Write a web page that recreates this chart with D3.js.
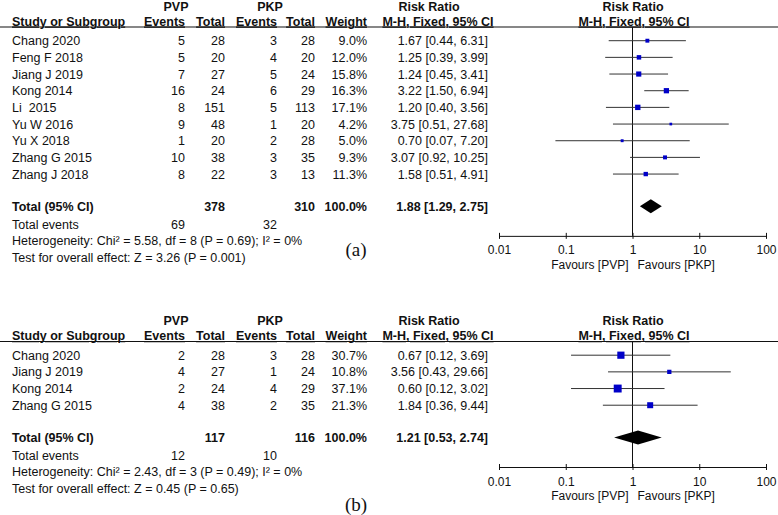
<!DOCTYPE html>
<html>
<head>
<meta charset="utf-8">
<script src="https://cdn.jsdelivr.net/npm/d3@7"></script>
<style>
  body { margin: 0; background: #fff; }
  svg text { font-family: "Liberation Sans", Arial, sans-serif; fill: #111; white-space: pre; }
</style>
</head>
<body>
<div id="chart"></div>
<script>
// panel (a)
const studiesA = ["Chang 2020", "Feng F 2018", "Jiang J 2019", "Kong 2014", "Li  2015", "Yu W 2016", "Yu X 2018", "Zhang G 2015", "Zhang J 2018"]
const pvpEventsA = [5, 5, 7, 16, 8, 9, 1, 10, 8]
const pvpTotalA = [28, 20, 27, 24, 151, 48, 20, 38, 22]
const pkpEventsA = [3, 4, 5, 6, 5, 1, 2, 3, 3]
const pkpTotalA = [28, 20, 24, 29, 113, 20, 28, 35, 13]
const weightA = [9.0, 12.0, 15.8, 16.3, 17.1, 4.2, 5.0, 9.3, 11.3]
const rrA = [1.67, 1.25, 1.24, 3.22, 1.20, 3.75, 0.70, 3.07, 1.58]
const lowA = [0.44, 0.39, 0.45, 1.50, 0.40, 0.51, 0.07, 0.92, 0.51]
const highA = [6.31, 3.99, 3.41, 6.94, 3.56, 27.68, 7.20, 10.25, 4.91]
const totalA = { pvpTotal: 378, pkpTotal: 310, pvpEvents: 69, pkpEvents: 32, rr: 1.88, low: 1.29, high: 2.75 }
const hetA = "Heterogeneity: Chi² = 5.58, df = 8 (P = 0.69); I² = 0%"
const testA = "Test for overall effect: Z = 3.26 (P = 0.001)"

// panel (b)
const studiesB = ["Chang 2020", "Jiang J 2019", "Kong 2014", "Zhang G 2015"]
const pvpEventsB = [2, 4, 2, 4]
const pvpTotalB = [28, 27, 24, 38]
const pkpEventsB = [3, 1, 4, 2]
const pkpTotalB = [28, 24, 29, 35]
const weightB = [30.7, 10.8, 37.1, 21.3]
const rrB = [0.67, 3.56, 0.60, 1.84]
const lowB = [0.12, 0.43, 0.12, 0.36]
const highB = [3.69, 29.66, 3.02, 9.44]
const totalB = { pvpTotal: 117, pkpTotal: 116, pvpEvents: 12, pkpEvents: 10, rr: 1.21, low: 0.53, high: 2.74 }
const hetB = "Heterogeneity: Chi² = 2.43, df = 3 (P = 0.49); I² = 0%"
const testB = "Test for overall effect: Z = 0.45 (P = 0.65)"

const tickValues = [0.01, 0.1, 1, 10, 100]

const width = 778, height = 515
const fs = 12.5
const rowStep = 16.67

const svg = d3.select("#chart").append("svg")
    .attr("width", width)
    .attr("height", height)

const x = d3.scaleLog().domain([0.01, 100]).range([499, 766])
const size = d3.scaleSqrt().domain([0, 100]).range([0, 13])
const f2 = d3.format(".2f")
const f1 = d3.format(".1f")
const ciText = (r, l, h) => `${f2(r)} [${f2(l)}, ${f2(h)}]`

// column right edges
const col = { study: 12, pvpE: 185, pvpT: 225, pkpE: 277, pkpT: 315, weight: 367, rr: 488 }

function txt(g, xx, yy, s, opts = {}) {
    return g.append("text")
        .attr("x", xx)
        .attr("y", yy + 4.5)
        .attr("text-anchor", opts.anchor || "start")
        .attr("font-size", opts.size || fs)
        .attr("font-weight", opts.bold ? "bold" : null)
        .style("text-decoration", opts.underline ? "underline" : null)
        .text(s)
}

function drawPanel(top, d, label, labelY) {
    const g = svg.append("g").attr("transform", `translate(0,${top})`)

    // headers
    txt(g, 176, 6, "PVP", { anchor: "middle", bold: true })
    txt(g, 270, 6, "PKP", { anchor: "middle", bold: true })
    txt(g, 429, 6, "Risk Ratio", { anchor: "middle", bold: true })
    txt(g, 633, 6, "Risk Ratio", { anchor: "middle", bold: true })
    const h2 = 21
    txt(g, col.study, h2, "Study or Subgroup", { bold: true, underline: true })
    txt(g, col.pvpE, h2, "Events", { anchor: "end", bold: true, underline: true })
    txt(g, col.pvpT, h2, "Total", { anchor: "end", bold: true, underline: true })
    txt(g, col.pkpE, h2, "Events", { anchor: "end", bold: true, underline: true })
    txt(g, col.pkpT, h2, "Total", { anchor: "end", bold: true, underline: true })
    txt(g, col.weight, h2, "Weight", { anchor: "end", bold: true, underline: true })
    txt(g, 438, h2, "M-H, Fixed, 95% CI", { anchor: "middle", bold: true, underline: true })
    txt(g, 634, h2, "M-H, Fixed, 95% CI", { anchor: "middle", bold: true, underline: true })

    const ruleY = 27
    g.append("line")
        .attr("x1", 0).attr("x2", width)
        .attr("y1", ruleY).attr("y2", ruleY)
        .attr("stroke", "#111").attr("stroke-width", 1.2)

    const y = d3.scaleBand()
        .domain(d.studies)
        .range([40.7 - rowStep / 2, 40.7 - rowStep / 2 + d.studies.length * rowStep])
    const cy = s => y(s) + y.bandwidth() / 2

    d.studies.forEach((s, i) => {
        const yy = cy(s)
        txt(g, col.study, yy, s)
        txt(g, col.pvpE, yy, d.pvpEvents[i], { anchor: "end" })
        txt(g, col.pvpT, yy, d.pvpTotal[i], { anchor: "end" })
        txt(g, col.pkpE, yy, d.pkpEvents[i], { anchor: "end" })
        txt(g, col.pkpT, yy, d.pkpTotal[i], { anchor: "end" })
        txt(g, col.weight, yy, f1(d.weight[i]) + "%", { anchor: "end" })
        txt(g, col.rr, yy, ciText(d.rr[i], d.low[i], d.high[i]), { anchor: "end" })
    })

    const lastY = cy(d.studies[d.studies.length - 1])
    const totY = lastY + 32.3
    const evY = totY + 17.7
    const hetY = evY + 16.5
    const testY = hetY + 16.5
    const axisY = totY + 29.5

    txt(g, col.study, totY, "Total (95% CI)", { bold: true })
    txt(g, col.pvpT, totY, d.total.pvpTotal, { anchor: "end", bold: true })
    txt(g, col.pkpT, totY, d.total.pkpTotal, { anchor: "end", bold: true })
    txt(g, col.weight, totY, "100.0%", { anchor: "end", bold: true })
    txt(g, col.rr, totY, ciText(d.total.rr, d.total.low, d.total.high), { anchor: "end", bold: true })
    txt(g, col.study, evY, "Total events")
    txt(g, col.pvpE, evY, d.total.pvpEvents, { anchor: "end" })
    txt(g, col.pkpE, evY, d.total.pkpEvents, { anchor: "end" })
    txt(g, col.study, hetY, d.het)
    txt(g, col.study, testY, d.test)

    // null line
    g.append("line")
        .attr("x1", x(1)).attr("x2", x(1))
        .attr("y1", ruleY).attr("y2", axisY)
        .attr("stroke", "#111").attr("stroke-width", 1)

    // CI lines
    g.selectAll(".ci")
        .data(d.studies)
        .join("line")
        .attr("x1", (s, i) => x(d.low[i]))
        .attr("x2", (s, i) => x(d.high[i]))
        .attr("y1", s => cy(s))
        .attr("y2", s => cy(s))
        .attr("stroke", "#333")
        .attr("stroke-width", 1)

    g.selectAll(".sq")
        .data(d.studies)
        .join("rect")
        .attr("x", (s, i) => x(d.rr[i]) - size(d.weight[i]) / 2)
        .attr("y", (s, i) => cy(s) - size(d.weight[i]) / 2)
        .attr("width", (s, i) => size(d.weight[i]))
        .attr("height", (s, i) => size(d.weight[i]))
        .attr("fill", "#0000c8")

    // pooled diamond
    const t = d.total
    g.append("path")
        .attr("d", `M${x(t.low)},${totY} L${x(t.rr)},${totY - 7} L${x(t.high)},${totY} L${x(t.rr)},${totY + 7} Z`)
        .attr("fill", "#000")

    // axis
    const ax = g.append("g")
        .attr("transform", `translate(0,${axisY})`)
        .call(d3.axisBottom(x).tickValues(tickValues).tickSizeOuter(0).tickFormat(v => String(v)))
    ax.select(".domain").attr("stroke", "#111")
    ax.selectAll(".tick line").attr("y1", -3).attr("y2", 3).attr("stroke", "#111")
    ax.selectAll(".tick text")
        .attr("y", 10)
        .attr("font-size", 12)
        .attr("font-family", "Liberation Sans, Arial, sans-serif")
        .attr("fill", "#222")

    txt(g, x(1) - 4, axisY + 28.5, "Favours [PVP]", { anchor: "end", size: 12 }).attr("fill", "#333")
    txt(g, x(1) + 5, axisY + 28.5, "Favours [PKP]", { size: 12 }).attr("fill", "#333")

    g.append("text")
        .attr("x", 356)
        .attr("y", labelY + 6)
        .attr("text-anchor", "middle")
        .attr("font-size", 19)
        .style("font-family", "'Liberation Serif', 'Times New Roman', serif")
        .text(label)
}

drawPanel(0, {
    studies: studiesA, pvpEvents: pvpEventsA, pvpTotal: pvpTotalA, pkpEvents: pkpEventsA, pkpTotal: pkpTotalA,
    weight: weightA, rr: rrA, low: lowA, high: highA, total: totalA, het: hetA, test: testA
}, "(a)", 250)

drawPanel(314.5, {
    studies: studiesB, pvpEvents: pvpEventsB, pvpTotal: pvpTotalB, pkpEvents: pkpEventsB, pkpTotal: pkpTotalB,
    weight: weightB, rr: rrB, low: lowB, high: highB, total: totalB, het: hetB, test: testB
}, "(b)", 190.5)
</script>
</body>
</html>
